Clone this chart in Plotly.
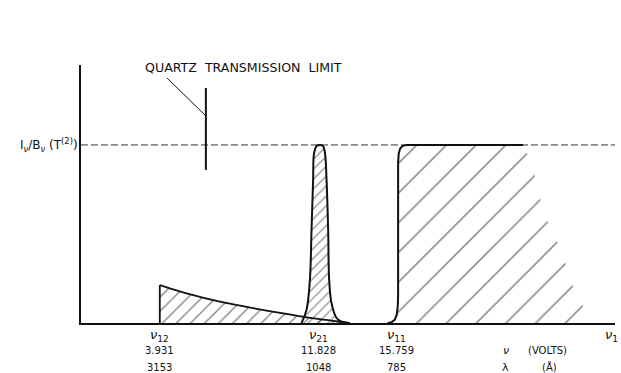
import plotly.graph_objects as go

# ---------------- data ----------------
LINE_SUBS = ["12", "21", "11"]
LINE_VOLTS = [3.931, 11.828, 15.759]
LINE_VOLTS_TXT = ["3.931", "11.828", "15.759"]
LINE_WAVELENGTH = ["3153", "1048", "785"]

# continuum decaying from nu12
DECAY_V = [3.931, 5.27, 6.93, 8.59, 10.25, 11.25, 12.25, 12.91, 13.41]
DECAY_I = [0.213, 0.167, 0.120, 0.083, 0.051, 0.032, 0.017, 0.007, 0.0]

# nu21 line profile
PEAK_V = [11.00, 11.25, 11.42, 11.50, 11.58, 11.63, 11.77, 11.92, 12.07, 12.17,
          12.25, 12.33, 12.38, 12.50, 12.75, 13.0, 13.3]
PEAK_I = [0.0, 0.073, 0.242, 0.522, 0.803, 0.955, 0.995, 1.0, 0.995, 0.955,
          0.803, 0.522, 0.242, 0.11, 0.028, 0.007, 0.0]

# nu11 continuum edge
STEP_V = [15.3, 15.5, 15.65, 15.75, 15.8, 15.82, 15.82, 15.85, 15.92, 16.05, 16.24, 22.05]
STEP_I = [0.0, 0.005, 0.018, 0.045, 0.09, 0.15, 0.90, 0.95, 0.98, 0.995, 1.0, 1.0]
# where the hatching fades out on the right
FADE_V = [22.49, 23.04, 23.54, 24.04, 24.34, 24.79, 25.54]
FADE_I = [0.899, 0.635, 0.506, 0.393, 0.258, 0.146, 0.0]

QUARTZ_V = 6.23
QUARTZ_I = [0.86, 1.32]
LEADER_V = [4.29, 6.23]
LEADER_I = [1.376, 1.163]
QUARTZ_LABEL_V = 8.12
QUARTZ_LABEL_I = 1.433

X_MAX = 26.64
Y_MAX = 1.449
REF_LEVEL = 1.0

UNIT_SYMBOLS = ["<i>ν</i>", "λ"]
UNIT_TEXT = ["(VOLTS)", "(Å)"]
UNIT_SYMBOL_V = 21.2
UNIT_TEXT_V = [23.25, 23.35]
NU1_V = 26.45

INK = "#111111"
HATCH = "#000000"
FONT = "DejaVu Sans"

fig = go.Figure()

# hatched areas
fig.add_trace(go.Scatter(
    x=[DECAY_V[0]] + DECAY_V, y=[0.0] + DECAY_I, fill="toself", mode="lines",
    line=dict(width=0), fillcolor="rgba(0,0,0,0)",
    fillpattern=dict(shape="/", size=10, solidity=0.13, fgcolor=HATCH, bgcolor="rgba(0,0,0,0)"),
    hoverinfo="skip"))
fig.add_trace(go.Scatter(
    x=PEAK_V, y=PEAK_I, fill="toself", mode="lines",
    line=dict(width=0), fillcolor="rgba(0,0,0,0)",
    fillpattern=dict(shape="/", size=7, solidity=0.17, fgcolor=HATCH, bgcolor="rgba(0,0,0,0)"),
    hoverinfo="skip"))
fig.add_trace(go.Scatter(
    x=STEP_V + FADE_V, y=STEP_I + FADE_I, fill="toself", mode="lines",
    line=dict(width=0), fillcolor="rgba(0,0,0,0)",
    fillpattern=dict(shape="/", size=21, solidity=0.07, fgcolor=HATCH, bgcolor="rgba(0,0,0,0)"),
    hoverinfo="skip"))

# reference level (dashed)
fig.add_trace(go.Scatter(x=[0, X_MAX], y=[REF_LEVEL, REF_LEVEL], mode="lines",
                         line=dict(color="#333", width=1, dash="7px,3px"), hoverinfo="skip"))

# outlines
fig.add_trace(go.Scatter(x=[DECAY_V[0], DECAY_V[0]], y=[0.0, DECAY_I[0]], mode="lines",
                         line=dict(color=INK, width=1.8), hoverinfo="skip"))
fig.add_trace(go.Scatter(x=DECAY_V, y=DECAY_I, mode="lines",
                         line=dict(color=INK, width=1.8, shape="spline", smoothing=0.7),
                         hoverinfo="skip"))
fig.add_trace(go.Scatter(x=PEAK_V, y=PEAK_I, mode="lines", line_shape="spline",
                         line=dict(color=INK, width=2), hoverinfo="skip"))
fig.add_trace(go.Scatter(x=STEP_V, y=STEP_I, mode="lines",
                         line=dict(color=INK, width=2), hoverinfo="skip"))

# quartz transmission limit marker + leader
fig.add_trace(go.Scatter(x=[QUARTZ_V, QUARTZ_V], y=QUARTZ_I, mode="lines",
                         line=dict(color=INK, width=2), hoverinfo="skip"))
fig.add_trace(go.Scatter(x=LEADER_V, y=LEADER_I, mode="lines",
                         line=dict(color=INK, width=1), hoverinfo="skip"))

ann = []
ann.append(dict(x=QUARTZ_LABEL_V, y=QUARTZ_LABEL_I, xref="x", yref="y", showarrow=False,
                text="QUARTZ  TRANSMISSION  LIMIT", font=dict(family=FONT, size=12.6, color=INK)))
ann.append(dict(x=0, y=REF_LEVEL, xref="paper", yref="y", xanchor="right", yanchor="middle",
                showarrow=False, xshift=-1,
                text="I<sub><i>ν</i></sub>/B<sub><i>ν</i></sub> (T<sup>(2)</sup>)",
                font=dict(family=FONT, size=12, color=INK)))

PLOT_H = 373 - 65 - 50
ROW1, ROW2, ROW3 = -12 / PLOT_H, -27 / PLOT_H, -44 / PLOT_H
for v, s, vt, wl in zip(LINE_VOLTS, LINE_SUBS, LINE_VOLTS_TXT, LINE_WAVELENGTH):
    ann.append(dict(x=v, y=ROW1, xref="x", yref="paper", showarrow=False, yanchor="middle",
                    text=f"<i>ν</i><sub>{s}</sub>", font=dict(family=FONT, size=13, color=INK)))
    ann.append(dict(x=v, y=ROW2, xref="x", yref="paper", showarrow=False, yanchor="middle",
                    text=vt, font=dict(family=FONT, size=10, color=INK)))
    ann.append(dict(x=v, y=ROW3, xref="x", yref="paper", showarrow=False, yanchor="middle",
                    text=wl, font=dict(family=FONT, size=10, color=INK)))
ann.append(dict(x=NU1_V, y=ROW1, xref="x", yref="paper", showarrow=False, yanchor="middle",
                text="<i>ν</i><sub>1</sub>", font=dict(family=FONT, size=13, color=INK)))
for sym, txt, tv, row in zip(UNIT_SYMBOLS, UNIT_TEXT, UNIT_TEXT_V, [ROW2, ROW3]):
    ann.append(dict(x=UNIT_SYMBOL_V, y=row, xref="x", yref="paper", showarrow=False,
                    yanchor="middle", text=sym, font=dict(family=FONT, size=11, color=INK)))
    ann.append(dict(x=tv, y=row, xref="x", yref="paper", showarrow=False,
                    yanchor="middle", text=txt, font=dict(family=FONT, size=10, color=INK)))

fig.update_layout(
    width=621, height=373,
    margin=dict(l=81, r=6, t=65, b=50),
    paper_bgcolor="white", plot_bgcolor="white",
    showlegend=False,
    annotations=ann,
    xaxis=dict(range=[0, X_MAX], showgrid=False, zeroline=False, showline=True,
               linecolor=INK, linewidth=2, showticklabels=False, ticks=""),
    yaxis=dict(range=[0, Y_MAX], showgrid=False, zeroline=False, showline=True,
               linecolor=INK, linewidth=2, showticklabels=False, ticks=""),
)

fig.write_html("out.html")
